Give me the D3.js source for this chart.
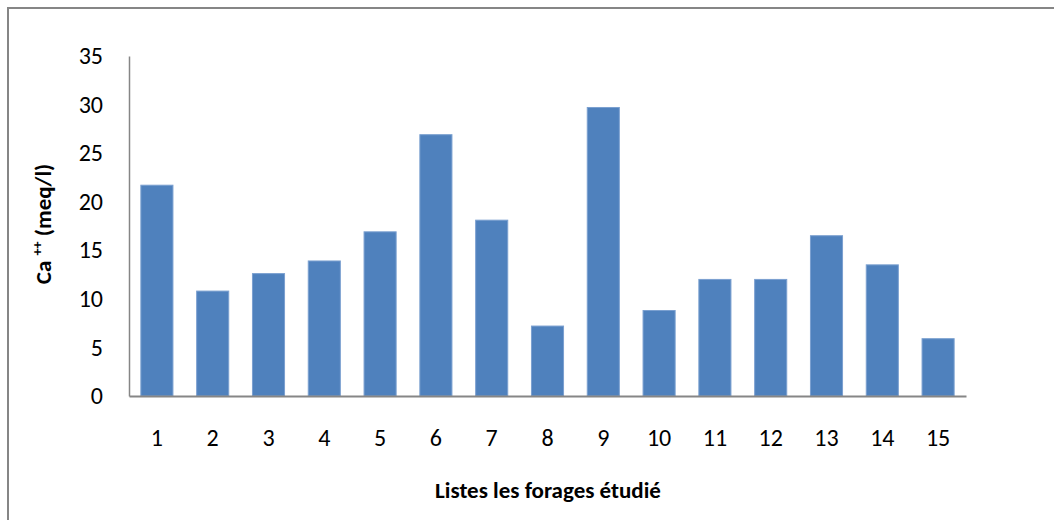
<!DOCTYPE html>
<html>
<head>
<meta charset="utf-8">
<script src="https://cdn.jsdelivr.net/npm/d3@7"></script>
<style>
html,body{margin:0;padding:0;background:#fff;}
svg{display:block;}
</style>
</head>
<body>
<svg id="chart" width="1054" height="520"></svg>
<script>
const categories = ["1","2","3","4","5","6","7","8","9","10","11","12","13","14","15"];
const values = [21.7, 10.8, 12.6, 13.9, 16.9, 26.9, 18.1, 7.2, 29.7, 8.8, 12.0, 12.0, 16.5, 13.5, 5.9];
const yTicks = [0, 5, 10, 15, 20, 25, 30, 35];
const yTitle = "Ca";
const yTitleSup = "++";
const yTitleUnit = " (meq/l)";
const xTitle = "Listes les forages étudié";

const svg = d3.select("#chart");
const font = "Calibri, Carlito, 'Open Sans', 'Liberation Sans', sans-serif";

// outer frame (left and top edges visible)
svg.append("rect").attr("x", 8).attr("y", 8).attr("width", 1100).attr("height", 600)
  .attr("fill", "none").attr("stroke", "#868686").attr("stroke-width", 2);

const pLeft = 129, pRight = 966, pTop = 56, pBottom = 396;
const x = d3.scaleBand().domain(categories).range([pLeft, pRight]).paddingInner(0.425).paddingOuter(0.2125);
const y = d3.scaleLinear().domain([0, 35]).range([pBottom, pTop]);

svg.append("g").selectAll("rect").data(values).join("rect")
  .attr("x", (d, i) => x(categories[i]))
  .attr("y", d => y(d))
  .attr("width", x.bandwidth())
  .attr("height", d => y(0) - y(d))
  .attr("fill", "#4F81BD")
  .attr("stroke", "#7BA0D0")
  .attr("stroke-width", 1);

// y axis
const yAxis = svg.append("g").attr("transform", `translate(${pLeft},0)`)
  .call(d3.axisLeft(y).tickValues(yTicks).tickSize(0).tickPadding(26));
yAxis.select(".domain").attr("stroke", "#868686").attr("stroke-width", 1.5);
yAxis.selectAll("text").attr("font-family", font).attr("font-size", 24).attr("fill", "#000");

// x axis
const xAxis = svg.append("g").attr("transform", `translate(0,${pBottom})`)
  .call(d3.axisBottom(x).tickSize(0).tickPadding(33));
xAxis.select(".domain").attr("stroke", "#868686").attr("stroke-width", 2);
xAxis.selectAll("text").attr("font-family", font).attr("font-size", 24).attr("fill", "#000");

// titles
const yt = svg.append("text")
  .attr("transform", "translate(51,224) rotate(-90)")
  .attr("text-anchor", "middle")
  .attr("font-family", font).attr("font-size", 23).attr("font-weight", "bold").attr("fill", "#000");
yt.append("tspan").text(yTitle + " ");
yt.append("tspan").attr("font-size", 14).attr("dy", -9).text(yTitleSup);
yt.append("tspan").attr("dy", 9).text(yTitleUnit);

svg.append("text")
  .attr("x", 548).attr("y", 498)
  .attr("text-anchor", "middle")
  .attr("font-family", font).attr("font-size", 23).attr("font-weight", "bold").attr("fill", "#000")
  .text(xTitle);
</script>
</body>
</html>
